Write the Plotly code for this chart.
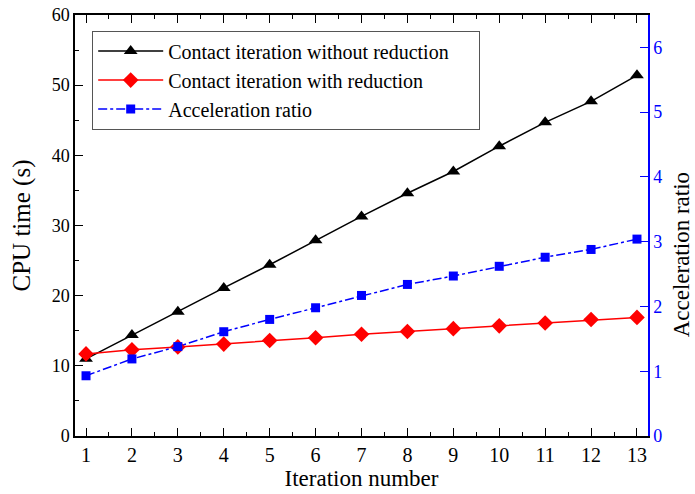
import plotly.graph_objects as go

iterations = [1, 2, 3, 4, 5, 6, 7, 8, 9, 10, 11, 12, 13]
cpu_without = [11.0, 14.4, 17.7, 21.1, 24.4, 27.9, 31.3, 34.6, 37.7, 41.3, 44.7, 47.7, 51.4]
cpu_with = [11.7, 12.3, 12.7, 13.1, 13.6, 14.0, 14.5, 14.9, 15.3, 15.7, 16.1, 16.6, 16.9]
accel_ratio = [0.93, 1.19, 1.38, 1.61, 1.80, 1.98, 2.17, 2.34, 2.47, 2.62, 2.76, 2.88, 3.04]

FONT = "Liberation Serif"
PAD = "\u00a0" * 5

fig = go.Figure()
fig.add_trace(go.Scatter(
    x=iterations, y=cpu_without, name="Contact iteration without reduction" + PAD,
    mode="lines+markers", line=dict(color="black", width=1.5),
    marker=dict(symbol="triangle-up", size=12, color="black")))
fig.add_trace(go.Scatter(
    x=iterations, y=cpu_with, name="Contact iteration with reduction",
    mode="lines+markers", line=dict(color="#ff0000", width=1.5),
    marker=dict(symbol="diamond", size=12, color="#ff0000")))
fig.add_trace(go.Scatter(
    x=iterations, y=accel_ratio, name="Acceleration ratio", yaxis="y2",
    mode="lines+markers", line=dict(color="#0000ff", width=1.5, dash="dashdot"),
    marker=dict(symbol="square", size=9, color="#0000ff")))

fig.update_layout(
    width=695, height=494,
    margin=dict(l=75, r=47, t=15, b=58, autoexpand=False),
    paper_bgcolor="white", plot_bgcolor="white",
    font=dict(family=FONT, size=18, color="black"),
    showlegend=True,
    legend=dict(x=0.03, y=0.963, xanchor="left", yanchor="top",
                bordercolor="#555555", borderwidth=1, bgcolor="white",
                font=dict(family=FONT, size=20), tracegroupgap=0,
                itemwidth=65),
    xaxis=dict(
        range=[0.76, 13.24], tickvals=iterations, ticktext=[str(i) for i in iterations],
        ticks="inside", ticklen=8, tickwidth=1.2, tickcolor="black",
        minor=dict(dtick=0.5, tick0=0.5, ticks="inside", ticklen=4, tickcolor="black"),
        showline=True, linecolor="black", linewidth=1.5, mirror="ticks",
        showgrid=False, zeroline=False,
        title=dict(text="Iteration number", font=dict(family=FONT, size=23), standoff=2),
        tickfont=dict(family=FONT, size=20)),
    yaxis=dict(
        range=[0, 60], dtick=10,
        ticks="inside", ticklen=8, tickwidth=1.2, tickcolor="black",
        minor=dict(dtick=5, ticks="inside", ticklen=4, tickcolor="black"),
        showline=True, linecolor="black", linewidth=1.5,
        showgrid=False, zeroline=False, automargin=False,
        title=dict(text="CPU time (s)", font=dict(family=FONT, size=25), standoff=14),
        tickfont=dict(family=FONT, size=18)),
    yaxis2=dict(
        range=[0, 6.5], dtick=1, overlaying="y", side="right",
        ticks="inside", ticklen=8, tickwidth=1.2, tickcolor="#0000ff",
        showline=True, linecolor="#0000ff", linewidth=1.5,
        showgrid=False, zeroline=False, automargin=False,
        tickfont=dict(family=FONT, size=18, color="#0000ff")),
    annotations=[dict(
        text="Acceleration ratio", textangle=-90, showarrow=False,
        xref="paper", yref="paper", x=1.06, y=0.43, xanchor="center", yanchor="middle",
        borderpad=0,
        font=dict(family=FONT, size=23, color="black"))],
)

fig.write_html("out.html")
